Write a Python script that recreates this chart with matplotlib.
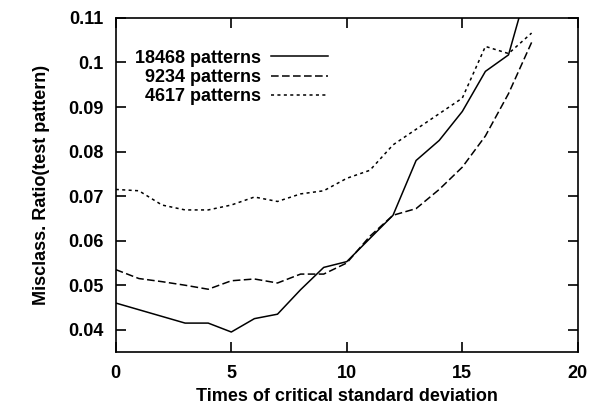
import matplotlib.pyplot as plt
from matplotlib.ticker import FuncFormatter

plt.rcParams['font.family'] = ['Liberation Sans', 'DejaVu Sans']
plt.rcParams['font.weight'] = 'bold'
plt.rcParams['axes.labelweight'] = 'bold'

times = list(range(19))
err_18468 = [0.046, 0.0445, 0.043, 0.0415, 0.0415, 0.0395, 0.0425, 0.0435, 0.049, 0.054,
             0.0553, 0.0605, 0.0657, 0.078, 0.0825, 0.089, 0.098, 0.1017, 0.120]
err_9234 = [0.0535, 0.0515, 0.0508, 0.050, 0.0491, 0.051, 0.0514, 0.0505, 0.0525, 0.0525,
            0.055, 0.061, 0.0657, 0.0672, 0.0715, 0.0765, 0.0835, 0.093, 0.1045]
err_4617 = [0.0715, 0.0712, 0.068, 0.0669, 0.0669, 0.068, 0.0698, 0.0688, 0.0705, 0.0712,
            0.074, 0.0758, 0.0815, 0.085, 0.0885, 0.092, 0.1036, 0.102, 0.1066]

fig = plt.figure(figsize=(6, 4.07), dpi=100)
ax = fig.add_axes([0.193, 0.135, 0.77, 0.821])

ax.plot(times, err_18468, color='black', lw=1.1, label='18468 patterns')
ax.plot(times, err_9234, color='black', lw=1.1, dashes=(5, 2.2), label='9234 patterns')
ax.plot(times, err_4617, color='black', lw=1.1, dashes=(2, 2.2), label='4617 patterns')

ax.set_xlim(0, 20)
ax.set_ylim(0.035, 0.11)
ax.set_xticks([0, 5, 10, 15, 20])
ax.set_yticks([0.04, 0.05, 0.06, 0.07, 0.08, 0.09, 0.1, 0.11])
ax.yaxis.set_major_formatter(FuncFormatter(lambda v, p: '%g' % round(v, 3)))
ax.tick_params(direction='in', length=7, width=1.2, top=True, right=True,
               labelsize=13, pad=9)
for s in ax.spines.values():
    s.set_linewidth(1.2)

ax.set_xlabel('Times of critical standard deviation', fontsize=13, labelpad=5)
ax.set_ylabel('Misclass. Ratio(test pattern)', fontsize=13, labelpad=13)

ax.legend(loc='upper left', bbox_to_anchor=(0.041, 0.905), markerfirst=False,
          frameon=False, fontsize=13, handlelength=3.15, handletextpad=0.55,
          labelspacing=0.13, borderpad=0, borderaxespad=0)

fig.savefig('out.png', dpi=100)
